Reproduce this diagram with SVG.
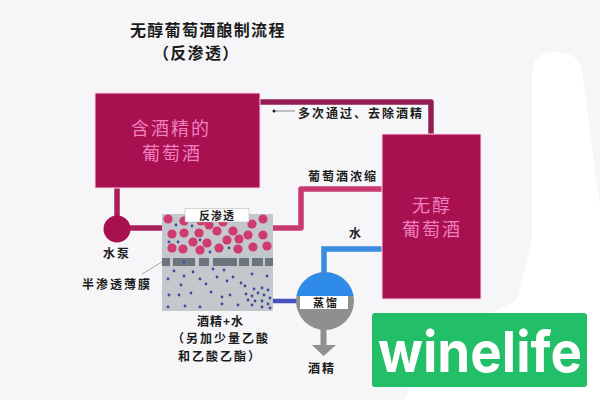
<svg xmlns="http://www.w3.org/2000/svg" width="600" height="400" viewBox="0 0 600 400">
<style>
text{font-family:"Noto Sans CJK SC","Noto Sans",sans-serif}
.k{fill:#1c1c1c;font-size:12px;font-weight:700;letter-spacing:2px}
.p{fill:#f07fc0;font-size:18px;text-anchor:middle;letter-spacing:2px}
.box{fill:#a8104f;stroke:#fbd4ec;stroke-width:1}
.w{fill:none;stroke-width:5.5;stroke-linejoin:round}
.b circle{fill:#cf3a70;r:4.6px}
.d circle{fill:#3c4c9c;r:1.4px}
</style>
<rect width="600" height="400" fill="#f6f6f8"/>
<path d="M532 75Q532 52 555 52Q578 52 582 70L600 207V400H405L425 345L517 300L532 240Z" fill="#fff"/>
<text x="130" y="36" font-weight="700" fill="#1c1c1c" letter-spacing="1.300" style="font-size:16px">无醇葡萄酒酿制流程</text>
<text x="153" y="59" font-weight="700" fill="#1c1c1c" letter-spacing="1.300" style="font-size:16px">（反渗透）</text>
<g id="connectors">
<path class="w" stroke="#941c52" d="M260 102H431V134"/>
<path class="w" stroke="#a8205a" d="M117 188V228H162"/>
<path class="w" stroke="#c83a70" d="M273 228H301V189H382"/>
<path d="M324 274V249H382" fill="none" stroke="#3a8ade" stroke-width="5.500"/>
<path d="M268 301H298" fill="none" stroke="#4450c0" stroke-width="4.500"/>
<path d="M323.500 329V346" stroke="#8f8f8f" stroke-width="6"/>
<path d="M312 345H336L323.500 356Z" fill="#8f8f8f"/>
<path d="M274 111H295" stroke="#888" stroke-width="1"/>
<circle cx="274" cy="111" r="1.500" fill="#222"/>
<path d="M142 274L162 262" stroke="#aaa" stroke-width="1"/>
</g>
<g id="wine-left"><rect class="box" x="95" y="93" width="165" height="95"/>
<text class="p" x="171" y="135">含酒精的</text><text class="p" x="172" y="160">葡萄酒</text></g>
<g id="wine-right"><rect class="box" x="382" y="134" width="99" height="165"/>
<text class="p" x="432" y="212">无醇</text><text class="p" x="432" y="236">葡萄酒</text></g>
<g id="pump"><circle cx="117" cy="229" r="13.500" fill="#a8104f"/><text class="k" x="103" y="258">水泵</text></g>
<g id="membrane">
<rect x="162" y="214" width="111" height="97" fill="#c4c8cc"/>
<g class="b">
<circle cx="168" cy="219"/><circle cx="184" cy="221"/><circle cx="201" cy="221"/><circle cx="209" cy="225"/><circle cx="223" cy="222"/><circle cx="252" cy="224"/><circle cx="263" cy="219"/>
<circle cx="172" cy="234"/><circle cx="184" cy="233"/><circle cx="199" cy="233"/><circle cx="217" cy="231"/><circle cx="233" cy="231"/><circle cx="248" cy="235"/><circle cx="263" cy="235"/>
<circle cx="193" cy="242"/><circle cx="207" cy="243"/><circle cx="227" cy="240"/><circle cx="239" cy="239"/>
<circle cx="172" cy="248"/><circle cx="183" cy="249"/><circle cx="200" cy="250"/><circle cx="219" cy="248"/><circle cx="238" cy="249"/><circle cx="253" cy="247"/><circle cx="267" cy="246"/>
</g>
<g fill="#6c747c"><rect x="162" y="258" width="8" height="8"/><rect x="173" y="258" width="22" height="8"/><rect x="199" y="258" width="10" height="8"/><rect x="213" y="258" width="24" height="8"/><rect x="239" y="258" width="10" height="8"/><rect x="252" y="258" width="11" height="8"/><rect x="265" y="258" width="8" height="8"/></g>
<g class="d">
<circle cx="176" cy="225"/><circle cx="192" cy="226"/><circle cx="169" cy="242"/><circle cx="178" cy="242"/><circle cx="200" cy="240"/><circle cx="229" cy="248"/><circle cx="210" cy="252"/><circle cx="184" cy="262"/><circle cx="224" cy="270"/>
<circle cx="174" cy="271"/><circle cx="193" cy="272"/><circle cx="213" cy="269"/><circle cx="184" cy="276"/><circle cx="200" cy="279"/><circle cx="168" cy="279"/><circle cx="217" cy="277"/><circle cx="233" cy="277"/><circle cx="252" cy="274"/><circle cx="267" cy="276"/><circle cx="181" cy="285"/><circle cx="206" cy="284"/><circle cx="227" cy="281"/><circle cx="241" cy="283"/>
<circle cx="169" cy="295"/><circle cx="179" cy="295"/><circle cx="191" cy="293"/><circle cx="211" cy="292"/><circle cx="222" cy="297"/><circle cx="230" cy="295"/><circle cx="168" cy="307"/><circle cx="185" cy="306"/><circle cx="200" cy="307"/><circle cx="222" cy="304"/><circle cx="238" cy="305"/>
<circle cx="245" cy="286"/><circle cx="254" cy="289"/><circle cx="262" cy="288"/><circle cx="268" cy="290"/><circle cx="246" cy="294"/><circle cx="252" cy="296"/><circle cx="258" cy="293"/><circle cx="264" cy="295"/><circle cx="270" cy="298"/><circle cx="248" cy="300"/><circle cx="255" cy="301"/><circle cx="262" cy="301"/><circle cx="268" cy="304"/><circle cx="252" cy="305"/><circle cx="262" cy="307"/><circle cx="270" cy="308"/>
</g>
<rect x="185" y="208.500" width="64" height="13.500" fill="#fff" stroke="#aaa" stroke-width=".5"/>
<text x="217" y="220" text-anchor="middle" style="font-size:11px;font-weight:700;fill:#1c1c1c;letter-spacing:1px">反渗透</text>
</g>
<g id="still">
<circle cx="325" cy="301" r="29" fill="#8f8f8f"/>
<path d="M296.500 296A29 29 0 0 1 353.500 296Z" fill="#2f8be8"/>
<rect x="300" y="296" width="48" height="13" fill="#fff"/>
<text x="326" y="307" text-anchor="middle" style="font-size:11px;font-weight:700;fill:#1c1c1c;letter-spacing:2px">蒸馏</text>
</g>
<g id="labels">
<text class="k" x="298" y="118">多次通过、去除酒精</text>
<text class="k" x="308" y="181">葡萄酒浓缩</text>
<text class="k" x="349" y="238">水</text>
<text class="k" x="82" y="289">半渗透薄膜</text>
<text class="k" x="197" y="326" style="letter-spacing:1px">酒精+水</text>
<text class="k" x="172" y="343">（另加少量乙酸</text>
<text class="k" x="178" y="361">和乙酸乙酯）</text>
<text class="k" x="308" y="373">酒精</text>
</g>
<g id="logo"><rect x="372" y="313" width="215" height="74" rx="3" fill="#22bf68"/>
<text x="378" y="372" fill="#fff" style="font-family:Inter,sans-serif;font-size:56px;font-weight:700" textLength="204" lengthAdjust="spacingAndGlyphs">winelife</text></g>
</svg>
